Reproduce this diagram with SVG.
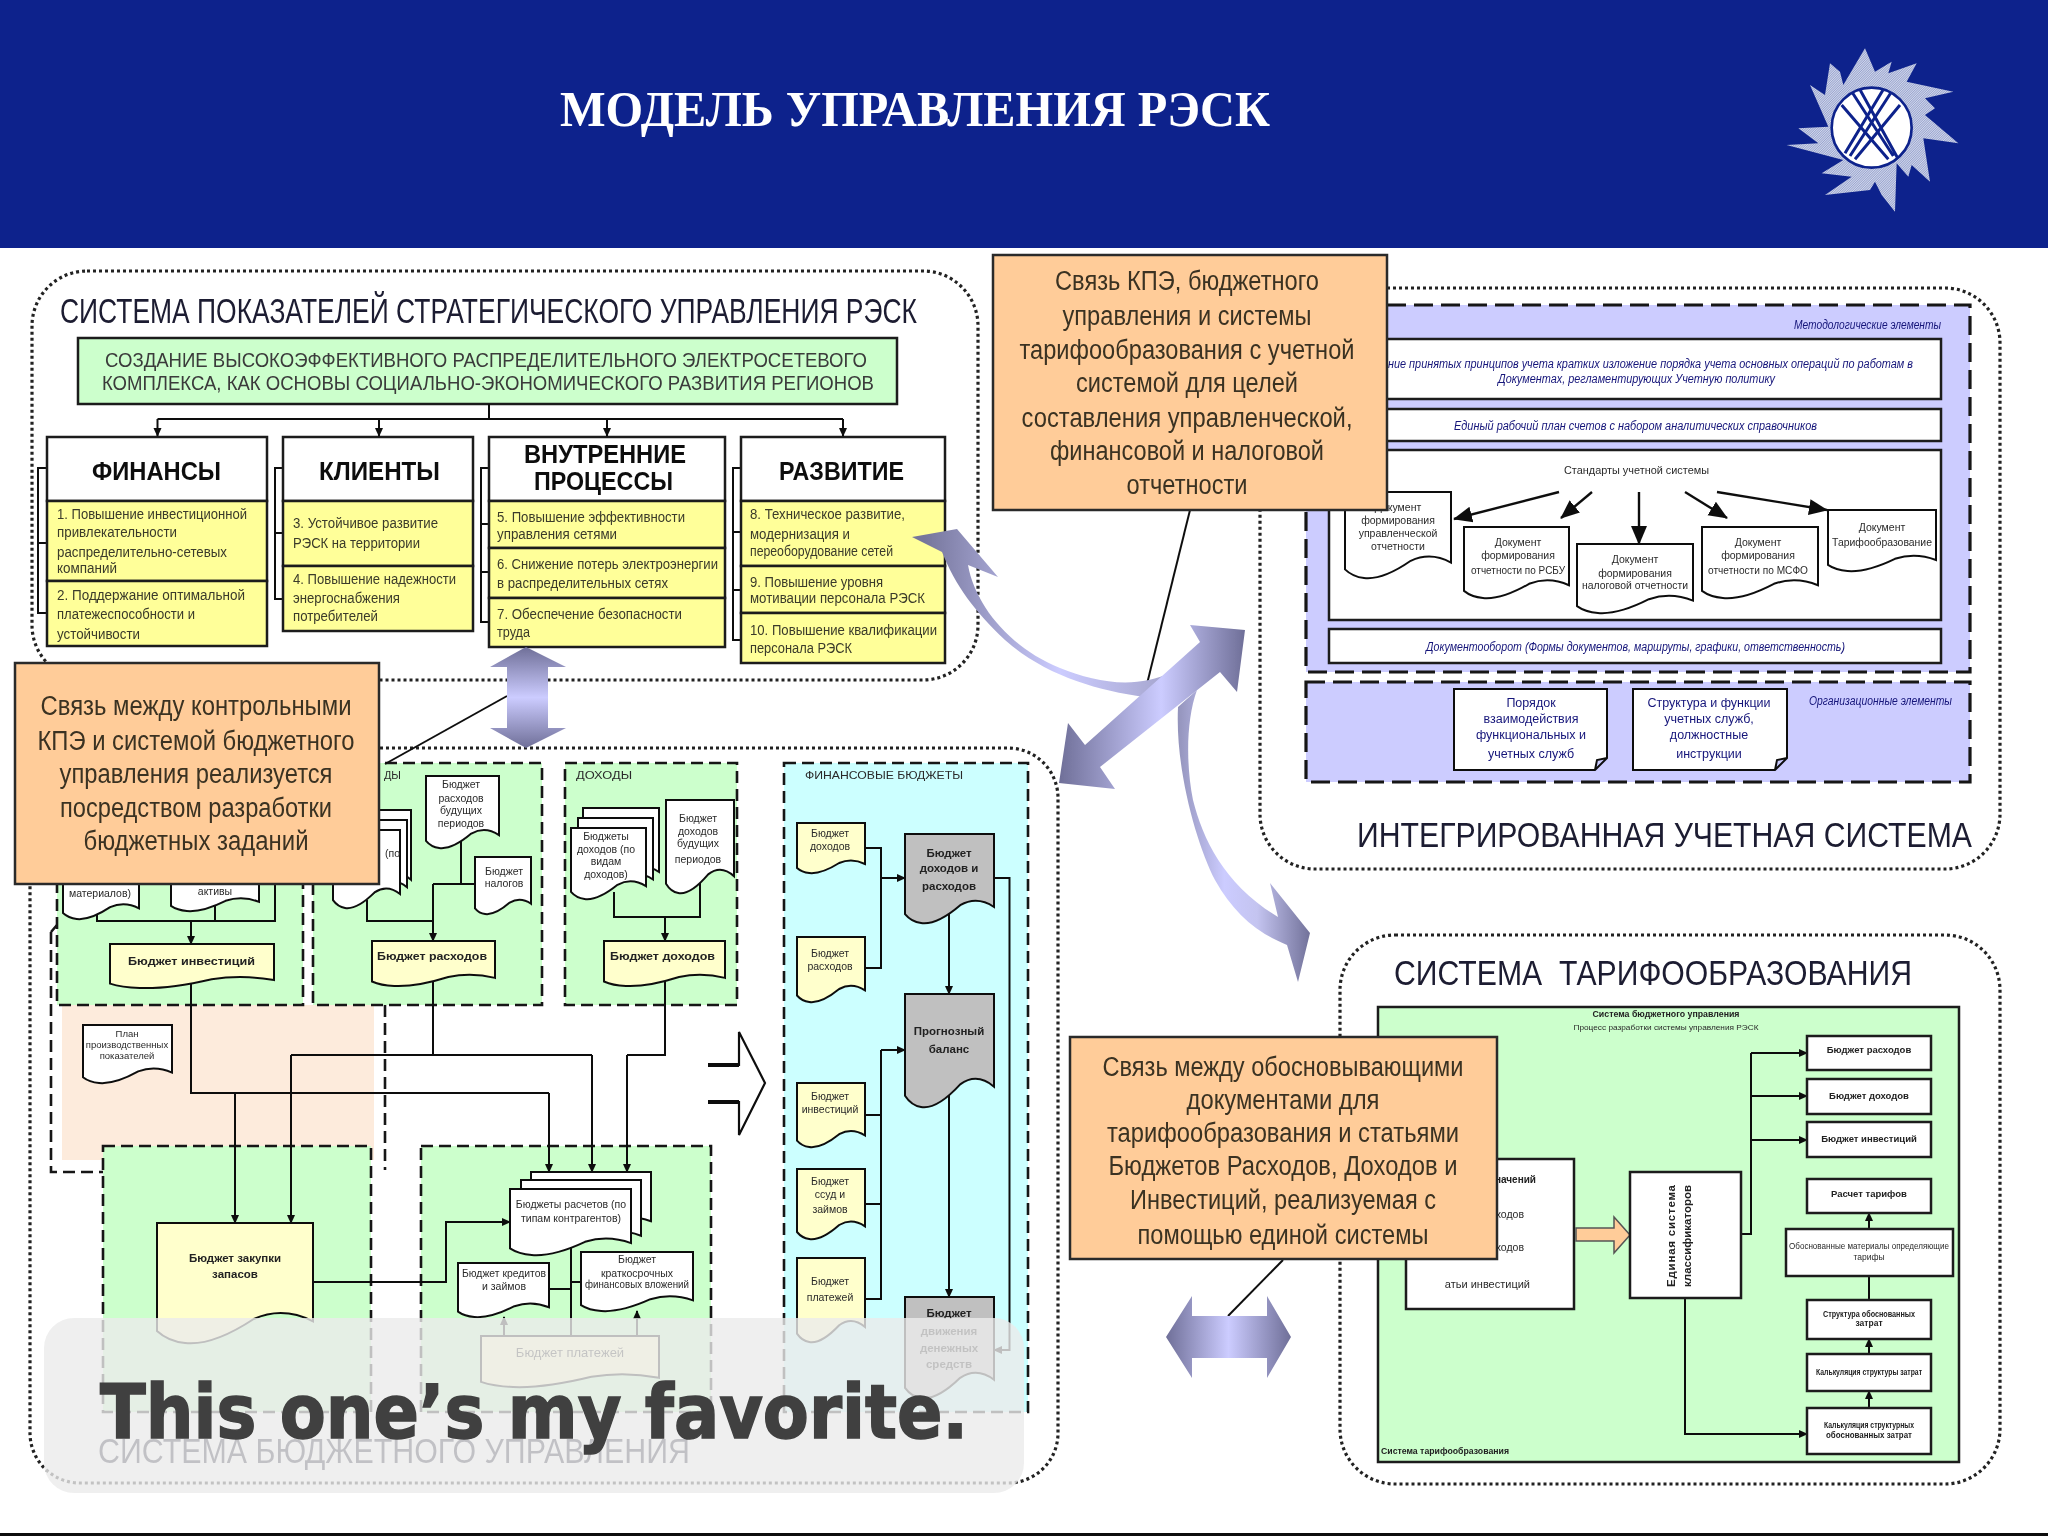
<svg xmlns="http://www.w3.org/2000/svg" width="2048" height="1536" viewBox="0 0 2048 1536">
<style>
text{font-family:"Liberation Sans","DejaVu Sans",sans-serif;fill:#222}
.m{text-anchor:middle}
.panel{fill:none;stroke:#222;stroke-width:3.2;stroke-dasharray:3 3}
.ttl{font-size:35px;fill:#1c1c30}
.box{stroke:#1a1a1a;stroke-width:2.5}
.y{fill:#ffff99}
.w{fill:#fff}
.g{fill:#ccffcc}
.c{fill:#ccffff}
.ly{fill:#ffffcc}
.gr{fill:#c0c0c0}
.v{fill:#ccccff}
.ds{stroke:#151515;stroke-width:2.6;stroke-dasharray:12 6}
.ds2{stroke:#151515;stroke-width:3.2;stroke-dasharray:19 8}
.doc{stroke:#111;stroke-width:2}
.hd{font-size:25px;font-weight:700;fill:#111}
.k{font-size:14px;fill:#3a3a2a}
.s{font-size:10.5px;fill:#2a2a2a}
.b{font-size:11.5px;font-weight:700;fill:#222}
.i{font-size:12.5px;font-style:italic;fill:#15157a}
.cap{font-size:27px;fill:#3a3222}
.ln{fill:none;stroke:#111;stroke-width:2}
.lnt{fill:none;stroke:#111;stroke-width:2;marker-end:url(#a)}
.lnb{fill:none;stroke:#111;stroke-width:2.4;marker-end:url(#ab)}
.call{fill:#ffcc99;stroke:#2a2a2a;stroke-width:2.5}
</style>
<defs>
<filter id="soft" x="0" y="0" width="2048" height="1536" filterUnits="userSpaceOnUse"><feGaussianBlur stdDeviation="0.6"/></filter>
<marker id="a" markerUnits="userSpaceOnUse" markerWidth="9" markerHeight="10" refX="8" refY="5" orient="auto"><path d="M0,1 L9,5 L0,9 Z" fill="#111"/></marker>
<marker id="ab" markerUnits="userSpaceOnUse" markerWidth="20" markerHeight="20" refX="18" refY="10" orient="auto"><path d="M0,2 L19,10 L0,18 Z" fill="#111"/></marker>
<symbol id="doc" viewBox="0 0 100 100" preserveAspectRatio="none" overflow="visible">
<path vector-effect="non-scaling-stroke" d="M0,0 H100 V82 C88,74 76,72 62,80 C48,92 32,102 18,100 C10,99 5,96 0,90 Z"/>
</symbol>
<pattern id="hatch" width="5" height="5" patternUnits="userSpaceOnUse" patternTransform="rotate(-45)"><rect width="5" height="5" fill="#d4d9ea"/><rect width="5" height="1.100" fill="#4a5eb0"/></pattern>
<clipPath id="disc"><circle cx="335" cy="293" r="118"/></clipPath>
<linearGradient id="gv" x1="0" y1="0" x2="0" y2="1"><stop offset="0" stop-color="#6f6f98"/><stop offset=".5" stop-color="#ccccff"/><stop offset="1" stop-color="#6f6f98"/></linearGradient>
<linearGradient id="gh" x1="0" y1="0" x2="1" y2="0"><stop offset="0" stop-color="#6f6f98"/><stop offset=".5" stop-color="#ccccff"/><stop offset="1" stop-color="#6f6f98"/></linearGradient>
<linearGradient id="gd" gradientUnits="userSpaceOnUse" x1="1059" y1="0" x2="1245" y2="0"><stop offset="0" stop-color="#6f6f98"/><stop offset=".55" stop-color="#ccccff"/><stop offset="1" stop-color="#6f6f98"/></linearGradient>
<linearGradient id="gk" gradientUnits="userSpaceOnUse" x1="925" y1="0" x2="1170" y2="0"><stop offset="0" stop-color="#76769c"/><stop offset=".55" stop-color="#ccccff"/><stop offset="1" stop-color="#a4a4cc"/></linearGradient>
<linearGradient id="gt" gradientUnits="userSpaceOnUse" x1="1178" y1="0" x2="1310" y2="0"><stop offset="0" stop-color="#9494bc"/><stop offset=".35" stop-color="#ccccff"/><stop offset=".6" stop-color="#c4c4f0"/><stop offset="1" stop-color="#72729a"/></linearGradient>
</defs>

<g id="slide" filter="url(#soft)">
<rect width="2048" height="1536" fill="#fff"/>

<g id="header">
<rect width="2048" height="248" fill="#0f248c"/>
<text x="560" y="126" font-size="50" font-weight="700" textLength="710" lengthAdjust="spacingAndGlyphs" style="font-family:'Liberation Serif','DejaVu Serif',serif;fill:#fff">МОДЕЛЬ УПРАВЛЕНИЯ РЭСК</text>
<g id="logo" transform="translate(1760 30) scale(.3333)">
<path fill="url(#hatch)" d="M315,55 L345,125 L395,95 L385,130 L470,100 L440,155 L580,185 L495,205 L525,235 L495,255 L595,340 L490,325 L510,455 L455,405 L445,440 L410,400 L405,545 L365,495 L345,455 L330,480 L195,495 L275,440 L185,430 L250,390 L80,345 L175,340 L115,295 L205,290 L150,165 L195,195 L210,100 L240,125 L250,165 Z"/>
<circle cx="335" cy="293" r="120" fill="#fff" stroke="#0f248c" stroke-width="8"/>
<g clip-path="url(#disc)" stroke="#0f248c" stroke-width="9" fill="none">
<path d="M255,370 L375,170 M270,378 L398,180 M285,388 L420,225"/>
<path d="M415,388 L295,170 M400,378 L272,180 M385,388 L245,225"/>
</g>
</g>
</g>

<g id="panel-kpi">
<rect class="panel" x="32" y="271" width="946" height="409" rx="55"/>
<text class="ttl" x="60" y="323" textLength="857" lengthAdjust="spacingAndGlyphs">СИСТЕМА ПОКАЗАТЕЛЕЙ СТРАТЕГИЧЕСКОГО УПРАВЛЕНИЯ РЭСК</text>
</g>
<g id="goal">
<rect class="box g" x="78" y="338" width="819" height="66"/>
<text x="105" y="367" font-size="21" textLength="762" lengthAdjust="spacingAndGlyphs" style="fill:#3a3a3a">СОЗДАНИЕ ВЫСОКОЭФФЕКТИВНОГО РАСПРЕДЕЛИТЕЛЬНОГО ЭЛЕКТРОСЕТЕВОГО</text>
<text x="102" y="390" font-size="21" textLength="772" lengthAdjust="spacingAndGlyphs" style="fill:#3a3a3a">КОМПЛЕКСА, КАК ОСНОВЫ СОЦИАЛЬНО-ЭКОНОМИЧЕСКОГО РАЗВИТИЯ РЕГИОНОВ</text>
</g>
<g id="kpi-finance">
<path class="ln" d="M47,468 H38 V613 H47 M38,543 H47"/>
<rect class="box w" x="47" y="437" width="220" height="64"/>
<rect class="box y" x="47" y="501" width="220" height="80"/>
<rect class="box y" x="47" y="581" width="220" height="65"/>
<text class="hd" x="92" y="480" textLength="129" lengthAdjust="spacingAndGlyphs">ФИНАНСЫ</text>
<text class="k" x="57" y="519" textLength="190" lengthAdjust="spacingAndGlyphs">1. Повышение инвестиционной</text>
<text class="k" x="57" y="537" textLength="120" lengthAdjust="spacingAndGlyphs">привлекательности</text>
<text class="k" x="57" y="557" textLength="170" lengthAdjust="spacingAndGlyphs">распределительно-сетевых</text>
<text class="k" x="57" y="573" textLength="60" lengthAdjust="spacingAndGlyphs">компаний</text>
<text class="k" x="57" y="600" textLength="188" lengthAdjust="spacingAndGlyphs">2. Поддержание оптимальной</text>
<text class="k" x="57" y="619" textLength="138" lengthAdjust="spacingAndGlyphs">платежеспособности и</text>
<text class="k" x="57" y="639" textLength="83" lengthAdjust="spacingAndGlyphs">устойчивости</text>
</g>
<g id="kpi-clients">
<path class="ln" d="M283,468 H275 V599 H283 M275,533 H283"/>
<rect class="box w" x="283" y="437" width="190" height="64"/>
<rect class="box y" x="283" y="501" width="190" height="65"/>
<rect class="box y" x="283" y="566" width="190" height="65"/>
<text class="hd" x="319" y="480" textLength="121" lengthAdjust="spacingAndGlyphs">КЛИЕНТЫ</text>
<text class="k" x="293" y="528" textLength="145" lengthAdjust="spacingAndGlyphs">3. Устойчивое развитие</text>
<text class="k" x="293" y="548" textLength="127" lengthAdjust="spacingAndGlyphs">РЭСК на территории</text>
<text class="k" x="293" y="584" textLength="163" lengthAdjust="spacingAndGlyphs">4. Повышение надежности</text>
<text class="k" x="293" y="603" textLength="107" lengthAdjust="spacingAndGlyphs">энергоснабжения</text>
<text class="k" x="293" y="621" textLength="85" lengthAdjust="spacingAndGlyphs">потребителей</text>
</g>
<g id="kpi-process">
<path class="ln" d="M489,468 H481 V622 H489 M481,524 H489 M481,572 H489"/>
<rect class="box w" x="489" y="437" width="236" height="64"/>
<rect class="box y" x="489" y="501" width="236" height="47"/>
<rect class="box y" x="489" y="548" width="236" height="50"/>
<rect class="box y" x="489" y="598" width="236" height="49"/>
<text class="hd" x="524" y="463" textLength="162" lengthAdjust="spacingAndGlyphs">ВНУТРЕННИЕ</text>
<text class="hd" x="534" y="490" textLength="139" lengthAdjust="spacingAndGlyphs">ПРОЦЕССЫ</text>
<text class="k" x="497" y="522" textLength="188" lengthAdjust="spacingAndGlyphs">5. Повышение эффективности</text>
<text class="k" x="497" y="539" textLength="120" lengthAdjust="spacingAndGlyphs">управления сетями</text>
<text class="k" x="497" y="569" textLength="221" lengthAdjust="spacingAndGlyphs">6. Снижение потерь электроэнергии</text>
<text class="k" x="497" y="588" textLength="171" lengthAdjust="spacingAndGlyphs">в распределительных сетях</text>
<text class="k" x="497" y="619" textLength="185" lengthAdjust="spacingAndGlyphs">7. Обеспечение безопасности</text>
<text class="k" x="497" y="637" textLength="33" lengthAdjust="spacingAndGlyphs">труда</text>
</g>
<g id="kpi-growth">
<path class="ln" d="M741,468 H733 V640 H741 M733,532 H741 M733,590 H741"/>
<rect class="box w" x="741" y="437" width="204" height="64"/>
<rect class="box y" x="741" y="501" width="204" height="65"/>
<rect class="box y" x="741" y="566" width="204" height="47"/>
<rect class="box y" x="741" y="613" width="204" height="50"/>
<text class="hd" x="779" y="480" textLength="125" lengthAdjust="spacingAndGlyphs">РАЗВИТИЕ</text>
<text class="k" x="750" y="519" textLength="155" lengthAdjust="spacingAndGlyphs">8. Техническое развитие,</text>
<text class="k" x="750" y="539" textLength="100" lengthAdjust="spacingAndGlyphs">модернизация и</text>
<text class="k" x="750" y="556" textLength="143" lengthAdjust="spacingAndGlyphs">переоборудование сетей</text>
<text class="k" x="750" y="587" textLength="133" lengthAdjust="spacingAndGlyphs">9. Повышение уровня</text>
<text class="k" x="750" y="603" textLength="175" lengthAdjust="spacingAndGlyphs">мотивации персонала РЭСК</text>
<text class="k" x="750" y="635" textLength="187" lengthAdjust="spacingAndGlyphs">10. Повышение квалификации</text>
<text class="k" x="750" y="653" textLength="102" lengthAdjust="spacingAndGlyphs">персонала РЭСК</text>
</g>

<g id="panel-budget">
<rect class="panel" x="30" y="748" width="1028" height="735" rx="50"/>
<text class="ttl" x="98" y="1463" textLength="592" lengthAdjust="spacingAndGlyphs">СИСТЕМА БЮДЖЕТНОГО УПРАВЛЕНИЯ</text>
</g>
<g id="budget-areas">
<path fill="#fdebdc" d="M62,1005 H374 V1160 H62 Z"/>
<path fill="none" class="ds" d="M51,932 L57,925 M51,932 V1172 H103 M385,1005 V1170"/>
<rect class="ds g" x="57" y="763" width="246" height="242"/>
<rect class="ds g" x="313" y="763" width="229" height="242"/>
<rect class="ds g" x="565" y="763" width="172" height="242"/>
<rect class="ds c" x="784" y="763" width="244" height="649"/>
<rect class="ds g" x="103" y="1146" width="268" height="266"/>
<rect class="ds g" x="421" y="1146" width="290" height="266"/>
<text class="s" x="384" y="779" textLength="17" lengthAdjust="spacingAndGlyphs">ДЫ</text>
<text class="s" x="576" y="779" textLength="56" lengthAdjust="spacingAndGlyphs">ДОХОДЫ</text>
<text class="s" x="805" y="779" textLength="158" lengthAdjust="spacingAndGlyphs">ФИНАНСОВЫЕ БЮДЖЕТЫ</text>
</g>

<g id="panel-accounting">
<rect class="panel" x="1260" y="288" width="740" height="581" rx="55"/>
<text class="ttl" x="1357" y="847" textLength="615" lengthAdjust="spacingAndGlyphs">ИНТЕГРИРОВАННАЯ УЧЕТНАЯ СИСТЕМА</text>
</g>
<g id="method-elements">
<rect class="ds2 v" x="1306" y="305" width="664" height="367"/>
<text class="i" x="1794" y="329" textLength="147" lengthAdjust="spacingAndGlyphs">Методологические элементы</text>
<rect class="box w" x="1329" y="339" width="612" height="60"/>
<text class="i" x="1388" y="368" textLength="525" lengthAdjust="spacingAndGlyphs">ние принятых принципов учета кратких изложение порядка учета основных операций по работам в</text>
<text class="i" x="1498" y="383" textLength="277" lengthAdjust="spacingAndGlyphs">Документах, регламентирующих Учетную политику</text>
<rect class="box w" x="1329" y="409" width="612" height="32"/>
<text class="i" x="1454" y="430" textLength="363" lengthAdjust="spacingAndGlyphs">Единый рабочий план счетов с набором аналитических справочников</text>
<rect class="box w" x="1329" y="450" width="612" height="170"/>
<text class="s" x="1564" y="474" font-size="13" textLength="145" lengthAdjust="spacingAndGlyphs">Стандарты учетной системы</text>
<rect class="box w" x="1329" y="629" width="612" height="34"/>
<text class="i" x="1426" y="651" textLength="419" lengthAdjust="spacingAndGlyphs">Документооборот (Формы документов, маршруты, графики, ответственность)</text>
</g>
<g id="org-elements">
<rect class="ds2 v" x="1306" y="682" width="664" height="100"/>
<text class="i" x="1809" y="705" textLength="143" lengthAdjust="spacingAndGlyphs">Организационные элементы</text>
<path class="doc w" d="M1454,689 H1607 V758 L1595,770 H1454 Z M1607,758 L1597,760 L1595,770"/>
<text class="m s" x="1531" y="707" style="fill:#15157a;font-size:12.5px">Порядок</text>
<text class="m s" x="1531" y="723" style="fill:#15157a;font-size:12.5px">взаимодействия</text>
<text class="m s" x="1531" y="739" style="fill:#15157a;font-size:12.5px">функциональных и</text>
<text class="m s" x="1531" y="758" style="fill:#15157a;font-size:12.5px">учетных служб</text>
<path class="doc w" d="M1633,689 H1787 V758 L1775,770 H1633 Z M1787,758 L1777,760 L1775,770"/>
<text class="m s" x="1709" y="707" style="fill:#15157a;font-size:12.5px">Структура и функции</text>
<text class="m s" x="1709" y="723" style="fill:#15157a;font-size:12.5px">учетных служб,</text>
<text class="m s" x="1709" y="739" style="fill:#15157a;font-size:12.5px">должностные</text>
<text class="m s" x="1709" y="758" style="fill:#15157a;font-size:12.5px">инструкции</text>
</g>

<g id="panel-tariff">
<rect class="panel" x="1340" y="935" width="660" height="549" rx="55"/>
<text class="ttl" x="1394" y="985" textLength="518" lengthAdjust="spacingAndGlyphs" xml:space="preserve">СИСТЕМА  ТАРИФООБРАЗОВАНИЯ</text>
<rect class="box g" x="1378" y="1007" width="581" height="455"/>
<text class="m b" x="1666" y="1017" style="font-size:9px" textLength="147" lengthAdjust="spacingAndGlyphs">Система бюджетного управления</text>
<text class="m s" x="1666" y="1030" style="font-size:8px" textLength="185" lengthAdjust="spacingAndGlyphs">Процесс разработки системы управления РЭСК</text>
<text class="b" x="1381" y="1454" style="font-size:9px" textLength="128" lengthAdjust="spacingAndGlyphs">Система тарифообразования</text>
</g>

<g id="connectors">
<path class="ln" d="M489,404 V419 M157.500,419 H843"/>
<path class="lnt" d="M157.500,419 V436"/><path class="lnt" d="M379,419 V436"/><path class="lnt" d="M607,419 V436"/><path class="lnt" d="M843,419 V436"/>

<path class="ln" d="M97,912 V921 H275 V884 M215,921 V900"/>
<path class="lnt" d="M191,921 V944"/>
<path class="ln" d="M367,900 V921 H433 M461,838 V884 H475 M433,884 H475"/>
<path class="lnt" d="M433,884 V941"/>
<path class="ln" d="M614,892 V917 H700 V878"/>
<path class="lnt" d="M665,917 V941"/>
<path class="ln" d="M191,980 V1093 H549 M433,978 V1055 M291,1055 H592 M665,978 V1055 H627"/>
<path class="lnt" d="M549,1093 V1172"/><path class="lnt" d="M592,1055 V1172"/><path class="lnt" d="M627,1055 V1172"/>
<path class="lnt" d="M235,1093 V1223"/><path class="lnt" d="M291,1055 V1223"/>
<path class="lnt" d="M313,1282 H446 V1222 H510"/>
<path class="ln" d="M549,1289 H571 M571,1282 H581 M571,1244 V1336"/>
<path class="lnt" d="M504,1336 V1317"/><path class="lnt" d="M637,1336 V1311"/>
<path class="ln" d="M865,848 H881 V968 H865"/>
<path class="lnt" d="M881,878 H905"/>
<path class="ln" d="M865,1115 H881 M865,1204 H881 M865,1299 H881 V1050"/>
<path class="lnt" d="M881,1050 H905"/>
<path class="lnt" d="M949,910 V994"/><path class="lnt" d="M949,1090 V1297"/>
<path class="lnt" d="M994,878 H1009.500 V1350 H994"/>

<path class="lnb" d="M1559,492 L1454,519"/><path class="lnb" d="M1592,492 L1561,518"/><path class="lnb" d="M1639,492 V544"/><path class="lnb" d="M1685,492 L1727,518"/><path class="lnb" d="M1717,492 L1827,510"/>

<path class="ln" d="M1741,1234 H1751 V1053"/>
<path class="lnt" d="M1751,1053 H1807"/><path class="lnt" d="M1751,1096 H1807"/><path class="lnt" d="M1751,1140 H1807"/>
<path class="lnt" d="M1869,1229 V1213"/><path class="ln" d="M1869,1276 V1300"/><path class="lnt" d="M1869,1354 V1339"/><path class="lnt" d="M1869,1408 V1391"/>
<path class="lnt" d="M1685,1298 V1434 H1807"/>

<path class="ln" d="M507,696 L385,764"/>
<path class="ln" d="M1190,510 L1144,696"/>
<path class="ln" d="M1283,1260 L1228,1316"/>
</g>

<g id="doc-inv-materials"><use href="#doc" class="doc w" x="63" y="860" width="76" height="59"/><text class="m s" x="100" y="897">материалов)</text></g>
<g id="doc-inv-assets"><use href="#doc" class="doc w" x="171" y="860" width="88" height="51"/><text class="m s" x="215" y="895">активы</text></g>
<g id="doc-inv-budget"><use href="#doc" class="doc ly" x="110" y="944" width="164" height="44"/><text class="b" x="128" y="965" textLength="127" lengthAdjust="spacingAndGlyphs">Бюджет инвестиций</text></g>

<g id="doc-exp-stack">
<use href="#doc" class="doc w" x="345" y="810" width="66" height="85"/>
<use href="#doc" class="doc w" x="340" y="820" width="67" height="82"/>
<use href="#doc" class="doc w" x="333" y="830" width="67" height="78"/>
<text class="s" x="385" y="857">(по</text>
</g>
<g id="doc-exp-future"><use href="#doc" class="doc w" x="426" y="776" width="73" height="72"/>
<text class="m s" x="461" y="788">Бюджет</text><text class="m s" x="461" y="802">расходов</text><text class="m s" x="461" y="814">будущих</text><text class="m s" x="461" y="827">периодов</text></g>
<g id="doc-taxes"><use href="#doc" class="doc w" x="475" y="857" width="56" height="57"/>
<text class="m s" x="504" y="875">Бюджет</text><text class="m s" x="504" y="887">налогов</text></g>
<g id="doc-exp-budget"><use href="#doc" class="doc ly" x="372" y="941" width="123" height="45"/><text class="b" x="377" y="960" textLength="110" lengthAdjust="spacingAndGlyphs">Бюджет расходов</text></g>

<g id="doc-inc-stack">
<use href="#doc" class="doc w" x="583" y="808" width="76" height="78"/>
<use href="#doc" class="doc w" x="578" y="818" width="75" height="75"/>
<use href="#doc" class="doc w" x="571" y="828" width="75" height="71"/>
<text class="m s" x="606" y="840">Бюджеты</text><text class="m s" x="606" y="853">доходов (по</text><text class="m s" x="606" y="865">видам</text><text class="m s" x="606" y="878">доходов)</text>
</g>
<g id="doc-inc-future"><use href="#doc" class="doc w" x="666" y="800" width="68" height="93"/>
<text class="m s" x="698" y="822">Бюджет</text><text class="m s" x="698" y="835">доходов</text><text class="m s" x="698" y="847">будущих</text><text class="m s" x="698" y="863">периодов</text></g>
<g id="doc-inc-budget"><use href="#doc" class="doc ly" x="604" y="941" width="121" height="45"/><text class="b" x="610" y="960" textLength="105" lengthAdjust="spacingAndGlyphs">Бюджет доходов</text></g>

<g id="doc-plan"><use href="#doc" class="doc w" x="83" y="1025" width="89" height="58"/>
<text class="m s" x="127" y="1037" style="font-size:9.500px">План</text><text class="m s" x="127" y="1048" style="font-size:9.500px">производственных</text><text class="m s" x="127" y="1059" style="font-size:9.500px">показателей</text></g>

<g id="doc-purchases"><use href="#doc" class="doc ly" x="157" y="1223" width="156" height="120"/>
<text class="m b" x="235" y="1262">Бюджет закупки</text><text class="m b" x="235" y="1278">запасов</text></g>

<g id="doc-settlements">
<use href="#doc" class="doc w" x="531" y="1172" width="120" height="60"/>
<use href="#doc" class="doc w" x="521" y="1180" width="120" height="68"/>
<use href="#doc" class="doc w" x="510" y="1189" width="121" height="66"/>
<text class="m s" x="571" y="1208">Бюджеты расчетов (по</text><text class="m s" x="571" y="1222">типам контрагентов)</text>
</g>
<g id="doc-loans"><use href="#doc" class="doc w" x="458" y="1263" width="91" height="54"/>
<text class="m s" x="504" y="1277" textLength="84" lengthAdjust="spacingAndGlyphs">Бюджет кредитов</text><text class="m s" x="504" y="1290">и займов</text></g>
<g id="doc-shortfin"><use href="#doc" class="doc w" x="581" y="1252" width="112" height="59"/>
<text class="m s" x="637" y="1263">Бюджет</text><text class="m s" x="637" y="1277">краткосрочных</text><text class="m s" x="637" y="1288" textLength="104" lengthAdjust="spacingAndGlyphs">финансовых вложений</text></g>
<g id="doc-payments"><use href="#doc" class="doc ly" x="481" y="1336" width="178" height="51"/>
<text class="m s" x="570" y="1357" style="font-size:13px">Бюджет платежей</text></g>

<g id="fin-income"><use href="#doc" class="doc ly" x="797" y="823" width="68" height="50"/><text class="m s" x="830" y="837">Бюджет</text><text class="m s" x="830" y="850">доходов</text></g>
<g id="fin-expense"><use href="#doc" class="doc ly" x="797" y="937" width="68" height="65"/><text class="m s" x="830" y="957">Бюджет</text><text class="m s" x="830" y="970">расходов</text></g>
<g id="fin-invest"><use href="#doc" class="doc ly" x="797" y="1083" width="68" height="64"/><text class="m s" x="830" y="1100">Бюджет</text><text class="m s" x="830" y="1113">инвестиций</text></g>
<g id="fin-loans"><use href="#doc" class="doc ly" x="797" y="1169" width="68" height="70"/><text class="m s" x="830" y="1185">Бюджет</text><text class="m s" x="830" y="1198">ссуд и</text><text class="m s" x="830" y="1213">займов</text></g>
<g id="fin-payments"><use href="#doc" class="doc ly" x="797" y="1258" width="68" height="84"/><text class="m s" x="830" y="1285">Бюджет</text><text class="m s" x="830" y="1301">платежей</text></g>
<g id="fin-pl"><use href="#doc" class="doc gr" x="905" y="834" width="89" height="89"/>
<text class="m b" x="949" y="857">Бюджет</text><text class="m b" x="949" y="872">доходов и</text><text class="m b" x="949" y="890">расходов</text></g>
<g id="fin-balance"><use href="#doc" class="doc gr" x="905" y="994" width="89" height="113"/>
<text class="m b" x="949" y="1035">Прогнозный</text><text class="m b" x="949" y="1053">баланс</text></g>
<g id="fin-cash"><use href="#doc" class="doc gr" x="905" y="1297" width="89" height="101"/>
<text class="m b" x="949" y="1317">Бюджет</text><text class="m b" x="949" y="1335">движения</text><text class="m b" x="949" y="1352">денежных</text><text class="m b" x="949" y="1368">средств</text></g>
<path id="hollow-arrow" fill="#fff" stroke="#111" stroke-width="2.200" d="M708,1065 H739 V1032 L765,1083 L739,1135 V1102 H708"/>
<path id="hollow-arrow-shaft" fill="none" stroke="#111" stroke-width="4" d="M708,1065 H739 M708,1102 H739"/>

<g id="std-doc-1"><use href="#doc" class="doc w" x="1345" y="492" width="106" height="86"/>
<text class="m s" x="1398" y="511">Документ</text><text class="m s" x="1398" y="524">формирования</text><text class="m s" x="1398" y="537">управленческой</text><text class="m s" x="1398" y="550">отчетности</text></g>
<g id="std-doc-2"><use href="#doc" class="doc w" x="1464" y="527" width="105" height="71"/>
<text class="m s" x="1518" y="546">Документ</text><text class="m s" x="1518" y="559">формирования</text><text class="m s" x="1518" y="574" textLength="94" lengthAdjust="spacingAndGlyphs">отчетности по РСБУ</text></g>
<g id="std-doc-3"><use href="#doc" class="doc w" x="1577" y="544" width="116" height="69"/>
<text class="m s" x="1635" y="563">Документ</text><text class="m s" x="1635" y="577">формирования</text><text class="m s" x="1635" y="589" textLength="106" lengthAdjust="spacingAndGlyphs">налоговой отчетности</text></g>
<g id="std-doc-4"><use href="#doc" class="doc w" x="1702" y="527" width="116" height="71"/>
<text class="m s" x="1758" y="546">Документ</text><text class="m s" x="1758" y="559">формирования</text><text class="m s" x="1758" y="574" textLength="100" lengthAdjust="spacingAndGlyphs">отчетности по МСФО</text></g>
<g id="std-doc-5"><use href="#doc" class="doc w" x="1828" y="510" width="108" height="61"/>
<text class="m s" x="1882" y="531">Документ</text><text class="m s" x="1882" y="546" textLength="100" lengthAdjust="spacingAndGlyphs">Тарифообразование</text></g>

<g id="tariff-items"><rect class="box w" x="1406" y="1159" width="168" height="150"/>
<text class="b" x="1536" y="1183" style="text-anchor:end;font-size:10px">значений</text>
<text class="s" x="1524" y="1218" style="text-anchor:end">ходов</text>
<text class="s" x="1524" y="1251" style="text-anchor:end">ходов</text>
<text class="s" x="1530" y="1288" style="text-anchor:end;font-size:11px">атьи инвестиций</text></g>
<path id="tariff-arrow" fill="#ffcc99" stroke="#555" stroke-width="1.500" d="M1576,1228 H1614 V1217 L1630,1235 L1614,1253 V1241 H1576 Z"/>
<g id="tariff-classifiers"><rect class="box w" x="1630" y="1172" width="111" height="126"/>
<text class="m b" transform="translate(1675 1236) rotate(-90)" textLength="102">Единая система</text>
<text class="m b" transform="translate(1691 1236) rotate(-90)" textLength="102">классификаторов</text></g>
<g id="tariff-exp"><rect class="box w" x="1807" y="1036" width="124" height="34"/><text class="m b" x="1869" y="1053" style="font-size:9.500px">Бюджет расходов</text></g>
<g id="tariff-inc"><rect class="box w" x="1807" y="1079" width="124" height="35"/><text class="m b" x="1869" y="1099" style="font-size:9.500px">Бюджет доходов</text></g>
<g id="tariff-inv"><rect class="box w" x="1807" y="1122" width="124" height="35"/><text class="m b" x="1869" y="1142" style="font-size:9.500px">Бюджет инвестиций</text></g>
<g id="tariff-rates"><rect class="box w" x="1807" y="1179" width="124" height="34"/><text class="m b" x="1869" y="1197" style="font-size:9.500px">Расчет тарифов</text></g>
<g id="tariff-mat"><rect class="box w" x="1786" y="1229" width="167" height="47"/><text class="m s" x="1869" y="1249" style="font-size:8.500px" textLength="160" lengthAdjust="spacingAndGlyphs">Обоснованные материалы определяющие</text><text class="m s" x="1869" y="1260" style="font-size:8.500px">тарифы</text></g>
<g id="tariff-str"><rect class="box w" x="1807" y="1300" width="124" height="39"/><text class="m b" x="1869" y="1317" style="font-size:8.500px" textLength="92" lengthAdjust="spacingAndGlyphs">Структура обоснованных</text><text class="m b" x="1869" y="1326" style="font-size:8.500px">затрат</text></g>
<g id="tariff-calc"><rect class="box w" x="1807" y="1354" width="124" height="37"/><text class="m b" x="1869" y="1375" style="font-size:8.500px" textLength="106" lengthAdjust="spacingAndGlyphs">Калькуляция структуры затрат</text></g>
<g id="tariff-calc2"><rect class="box w" x="1807" y="1408" width="124" height="46"/><text class="m b" x="1869" y="1428" style="font-size:8.500px" textLength="90" lengthAdjust="spacingAndGlyphs">Калькуляция структурных</text><text class="m b" x="1869" y="1438" style="font-size:8.500px" textLength="86" lengthAdjust="spacingAndGlyphs">обоснованных затрат</text></g>

<g id="block-arrows">
<path fill="url(#gv)" d="M526,647 L566,667 H548 V728 H566 L526,748 L490,728 H507 V667 H490 Z"/>
<path fill="url(#gh)" d="M1166,1337 L1192,1296 V1316 H1267 V1296 L1291,1337 L1267,1378 V1358 H1192 V1378 Z"/>
<path fill="url(#gk)" d="M912,537 L957,529 L998,577 L968,565 C975,605 1010,648 1060,668 C1095,682 1135,690 1172,672 L1190,690 L1145,697 C1095,690 1045,675 1005,640 C975,612 955,585 942,552 Z"/>
<path fill="url(#gt)" d="M1197,690 C1186,720 1186,765 1193,800 C1203,840 1225,885 1278,917 L1270,883 L1310,933 L1298,982 L1287,945 C1255,932 1233,912 1215,880 C1197,845 1175,770 1178,707 Z"/>
<path fill="url(#gd)" d="M1245,630 L1237,692 L1220,672 L1100,767 L1115,789 L1059,783 L1068,723 L1085,745 L1200,642 L1190,625 Z"/>
</g>

<g id="callout-top"><rect class="call" x="993" y="255" width="394" height="255"/>
<text class="m cap" x="1187" y="290" textLength="264" lengthAdjust="spacingAndGlyphs">Связь КПЭ, бюджетного</text>
<text class="m cap" x="1187" y="325" textLength="249" lengthAdjust="spacingAndGlyphs">управления и системы</text>
<text class="m cap" x="1187" y="359" textLength="335" lengthAdjust="spacingAndGlyphs">тарифообразования с учетной</text>
<text class="m cap" x="1187" y="392" textLength="222" lengthAdjust="spacingAndGlyphs">системой для целей</text>
<text class="m cap" x="1187" y="427" textLength="331" lengthAdjust="spacingAndGlyphs">составления управленческой,</text>
<text class="m cap" x="1187" y="460" textLength="274" lengthAdjust="spacingAndGlyphs">финансовой и налоговой</text>
<text class="m cap" x="1187" y="494" textLength="121" lengthAdjust="spacingAndGlyphs">отчетности</text></g>
<g id="callout-left"><rect class="call" x="15" y="663" width="364" height="221"/>
<text class="m cap" x="196" y="715" textLength="311" lengthAdjust="spacingAndGlyphs">Связь между контрольными</text>
<text class="m cap" x="196" y="750" textLength="317" lengthAdjust="spacingAndGlyphs">КПЭ и системой бюджетного</text>
<text class="m cap" x="196" y="783" textLength="273" lengthAdjust="spacingAndGlyphs">управления реализуется</text>
<text class="m cap" x="196" y="817" textLength="272" lengthAdjust="spacingAndGlyphs">посредством разработки</text>
<text class="m cap" x="196" y="850" textLength="225" lengthAdjust="spacingAndGlyphs">бюджетных заданий</text></g>
<g id="callout-right"><rect class="call" x="1070" y="1037" width="427" height="222"/>
<text class="m cap" x="1283" y="1076" textLength="361" lengthAdjust="spacingAndGlyphs">Связь между обосновывающими</text>
<text class="m cap" x="1283" y="1109" textLength="193" lengthAdjust="spacingAndGlyphs">документами для</text>
<text class="m cap" x="1283" y="1142" textLength="352" lengthAdjust="spacingAndGlyphs">тарифообразования и статьями</text>
<text class="m cap" x="1283" y="1175" textLength="349" lengthAdjust="spacingAndGlyphs">Бюджетов Расходов, Доходов и</text>
<text class="m cap" x="1283" y="1209" textLength="306" lengthAdjust="spacingAndGlyphs">Инвестиций, реализуемая с</text>
<text class="m cap" x="1283" y="1244" textLength="291" lengthAdjust="spacingAndGlyphs">помощью единой системы</text></g>

<g id="caption-overlay">
<rect x="44" y="1318" width="980" height="175" rx="30" fill="#ebebeb" fill-opacity=".8"/>
<text x="100" y="1438" textLength="868" lengthAdjust="spacingAndGlyphs" stroke="#404040" stroke-width="1.500" style="font-family:'DejaVu Sans',sans-serif;font-weight:700;font-size:74px;fill:#404040">This one’s my favorite.</text>
</g>
<rect id="bottom-rule" y="1533" width="2048" height="3" fill="#111"/>
</g>
</svg>
